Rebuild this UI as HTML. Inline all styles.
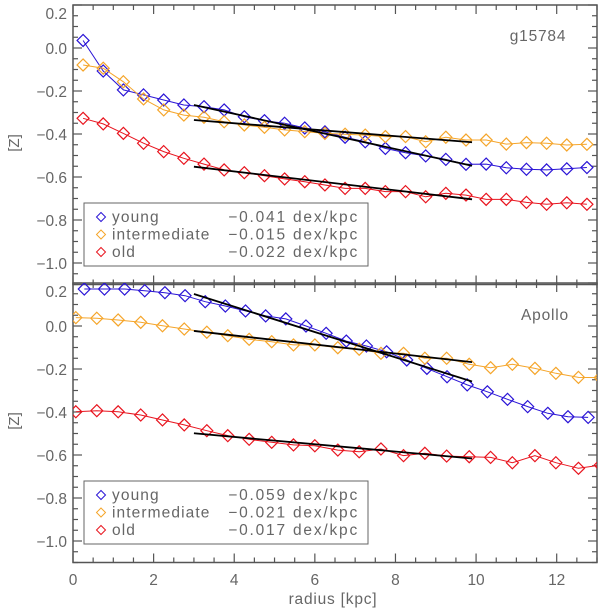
<!DOCTYPE html>
<html><head><meta charset="utf-8">
<style>
html,body{margin:0;padding:0;background:#fff;}
svg{display:block;font-family:"Liberation Sans",sans-serif;}
text{fill:#666;}
</style></head>
<body>
<svg id="chart" width="600" height="611" viewBox="0 0 600 611" xmlns="http://www.w3.org/2000/svg"></svg>
<script>
// ---- data ----
const topYoungX = [0.25,0.75,1.25,1.75,2.25,2.75,3.25,3.75,4.25,4.75,5.25,5.75,6.25,6.75,7.25,7.75,8.25,8.75,9.25,9.75,10.25,10.75,11.25,11.75,12.25,12.75];
const topYoungY = [0.035,-0.107,-0.195,-0.218,-0.242,-0.265,-0.273,-0.288,-0.32,-0.338,-0.35,-0.372,-0.39,-0.415,-0.436,-0.467,-0.487,-0.502,-0.518,-0.541,-0.54,-0.557,-0.564,-0.567,-0.562,-0.556];
const topInterX = topYoungX;
const topInterY = [-0.079,-0.094,-0.157,-0.237,-0.288,-0.312,-0.322,-0.343,-0.358,-0.369,-0.381,-0.389,-0.397,-0.401,-0.405,-0.412,-0.412,-0.436,-0.415,-0.428,-0.428,-0.447,-0.44,-0.443,-0.451,-0.448];
const topOldX = topYoungX;
const topOldY = [-0.327,-0.353,-0.397,-0.443,-0.482,-0.513,-0.54,-0.567,-0.58,-0.594,-0.609,-0.622,-0.637,-0.653,-0.653,-0.668,-0.668,-0.692,-0.676,-0.684,-0.704,-0.704,-0.718,-0.727,-0.72,-0.727];
const botYoungX = [0.28,0.78,1.28,1.78,2.28,2.78,3.28,3.78,4.28,4.78,5.28,5.78,6.28,6.78,7.28,7.78,8.28,8.78,9.28,9.78,10.28,10.78,11.28,11.78,12.28,12.78];
const botYoungY = [0.172,0.172,0.172,0.164,0.155,0.141,0.113,0.093,0.07,0.047,0.033,0.0,-0.034,-0.07,-0.093,-0.12,-0.158,-0.197,-0.236,-0.274,-0.306,-0.341,-0.375,-0.406,-0.422,-0.425];
const botInterX = [0.07,0.59,1.12,1.68,2.22,2.76,3.32,3.84,4.37,4.93,5.47,6.0,6.57,7.1,7.64,8.2,8.73,9.27,9.83,10.36,10.9,11.46,11.98,12.54,13.08];
const botInterY = [0.039,0.036,0.028,0.017,0.001,-0.014,-0.029,-0.045,-0.062,-0.073,-0.088,-0.088,-0.101,-0.108,-0.127,-0.127,-0.15,-0.15,-0.178,-0.194,-0.178,-0.197,-0.22,-0.239,-0.24];
const botOldX = botInterX;
const botOldY = [-0.399,-0.394,-0.399,-0.414,-0.437,-0.46,-0.487,-0.51,-0.527,-0.541,-0.553,-0.557,-0.577,-0.585,-0.572,-0.603,-0.592,-0.605,-0.608,-0.611,-0.636,-0.603,-0.636,-0.662,-0.647];
const topFitStart = [-0.265,-0.335,-0.552];
const topSlopes = [-0.041,-0.015,-0.022];
const botFitStart = [0.149,-0.023,-0.499];
const botSlopes = [-0.059,-0.021,-0.017];
const fitRange = [3,9.9];
const xTicks = [0,2,4,6,8,10,12];
const yTicks = [0.2,0.0,-0.2,-0.4,-0.6,-0.8,-1.0];
const yTickLabels = ["0.2","0.0","\u22120.2","\u22120.4","\u22120.6","\u22120.8","\u22121.0"];
const seriesNames = ["young","intermediate","old"];
const topSlopeLabels = ["\u22120.041 dex/kpc","\u22120.015 dex/kpc","\u22120.022 dex/kpc"];
const botSlopeLabels = ["\u22120.059 dex/kpc","\u22120.021 dex/kpc","\u22120.017 dex/kpc"];

const colors = ["#2a14d6","#f5a52a","#e8141e"];
const svg = document.getElementById('chart');
const NS = "http://www.w3.org/2000/svg";
const X0 = 73, X1 = 597;
const xs = v => X0 + (v - 0) / 13 * (X1 - X0);
function mk(tag, attrs, parent){ const e=document.createElementNS(NS,tag); for(const k in attrs) e.setAttribute(k,attrs[k]); (parent||svg).appendChild(e); return e; }

const defs = mk('defs',{});
const panels = [
 {top:5, name:'g15784', lab:[538,41], data:[[topYoungX,topYoungY],[topInterX,topInterY],[topOldX,topOldY]], fs:topFitStart, sl:topSlopes, sll:topSlopeLabels, leg:[84,203], id:'top'},
 {top:283, name:'Apollo', lab:[545,320], data:[[botYoungX,botYoungY],[botInterX,botInterY],[botOldX,botOldY]], fs:botFitStart, sl:botSlopes, sll:botSlopeLabels, leg:[84,481], id:'bottom'}
];
panels.forEach(p=>{
  const H = 279.5;
  const ys = v => p.top + (0.2 - v) / 1.3 * H;
  const g = mk('g',{});
  
  
  const cp = mk('clipPath',{id:'clip-'+p.id}, defs);
  mk('rect',{x:X0,y:p.top,width:X1-X0,height:H},cp);
  const fr = mk('rect',{x:X0,y:p.top,width:X1-X0,height:H,fill:'none',stroke:'#555','stroke-width':1.5},g);
  
  
  for(let v=0; v<=13.001; v+=0.5){
    const major = Math.abs(v/2-Math.round(v/2))<1e-6;
    const L = major?9:5;
    mk('line',{x1:xs(v),x2:xs(v),y1:p.top+H,y2:p.top+H-L,stroke:'#555','stroke-width':1.2},g);
    mk('line',{x1:xs(v),x2:xs(v),y1:p.top,y2:p.top+L,stroke:'#555','stroke-width':1.2},g);
  }
  for(let i=0;i<=26;i++){
    const v = 0.2 - i*0.05;
    const major = i%4===0;
    const L = major?9:5;
    mk('line',{x1:X0,x2:X0+L,y1:ys(v),y2:ys(v),stroke:'#555','stroke-width':1.2},g);
    mk('line',{x1:X1,x2:X1-L,y1:ys(v),y2:ys(v),stroke:'#555','stroke-width':1.2},g);
  }
  yTicks.forEach((v,i)=>{
    let yy = ys(v)+6; if(i===0) yy += 8;
    const t = mk('text',{x:67,y:yy,'text-anchor':'end','font-size':15.5},g);
    t.textContent = yTickLabels[i];
    
    
  });
  const yt = mk('text',{x:0,y:0,'text-anchor':'middle','font-size':15,transform:`translate(19,${p.top+138}) rotate(-90)`},g);
  yt.textContent='[Z]';
  
  
  const nm = mk('text',{x:p.lab[0],y:p.lab[1],'text-anchor':'middle','font-size':15.5,'letter-spacing':'0.8'},g);
  nm.textContent = p.name;
  
  
  const sg = mk('g',{'clip-path':'url(#clip-'+p.id+')'},g);
  p.data.forEach((d,si)=>{
    const pts = d[0].map((x,i)=>xs(x).toFixed(1)+','+ys(d[1][i]).toFixed(1)).join(' ');
    const pl = mk('polyline',{points:pts,fill:'none',stroke:colors[si],'stroke-width':1},sg);
    
    
    d[0].forEach((x,i)=>{
      const cx=xs(x), cy=ys(d[1][i]), r=6;
      const m = mk('polygon',{points:`${cx},${cy-r} ${cx+r},${cy} ${cx},${cy+r} ${cx-r},${cy}`,fill:'none',stroke:colors[si],'stroke-width':1.2},sg);
      
      
    });
  });
  p.fs.forEach((y0,si)=>{
    const y1 = y0 + p.sl[si]*(fitRange[1]-fitRange[0]);
    const l = mk('line',{x1:xs(fitRange[0]),y1:ys(y0),x2:xs(fitRange[1]),y2:ys(y1),stroke:'#000','stroke-width':1.8},g);
    
    
  });
  const lg = mk('g',{},g);
  
  
  mk('rect',{x:p.leg[0],y:p.leg[1],width:284,height:63,fill:'#fff',stroke:'#666','stroke-width':1},lg);
  seriesNames.forEach((n,si)=>{
    const cy = p.leg[1]+14+si*17.5;
    const cx = p.leg[0]+17, r=4.5;
    mk('polygon',{points:`${cx},${cy-r} ${cx+r},${cy} ${cx},${cy+r} ${cx-r},${cy}`,fill:'none',stroke:colors[si],'stroke-width':1},lg);
    const t = mk('text',{x:p.leg[0]+28,y:cy+5,'font-size':15.5,'letter-spacing':'1.1'},lg);
    t.textContent = n;
    
    
    const v = mk('text',{x:p.leg[0]+275,y:cy+5,'font-size':15.5,'letter-spacing':'1.8','text-anchor':'end'},lg);
    v.textContent = p.sll[si];
    
    
  });
});
xTicks.forEach(v=>{
  const t = mk('text',{x:xs(v),y:585,'text-anchor':'middle','font-size':15.5});
  t.textContent = v;
  
  
});
const xt = mk('text',{x:333,y:604,'text-anchor':'middle','font-size':15.5,'letter-spacing':'0.8'});
xt.textContent = 'radius [kpc]';


</script>
</body></html>
